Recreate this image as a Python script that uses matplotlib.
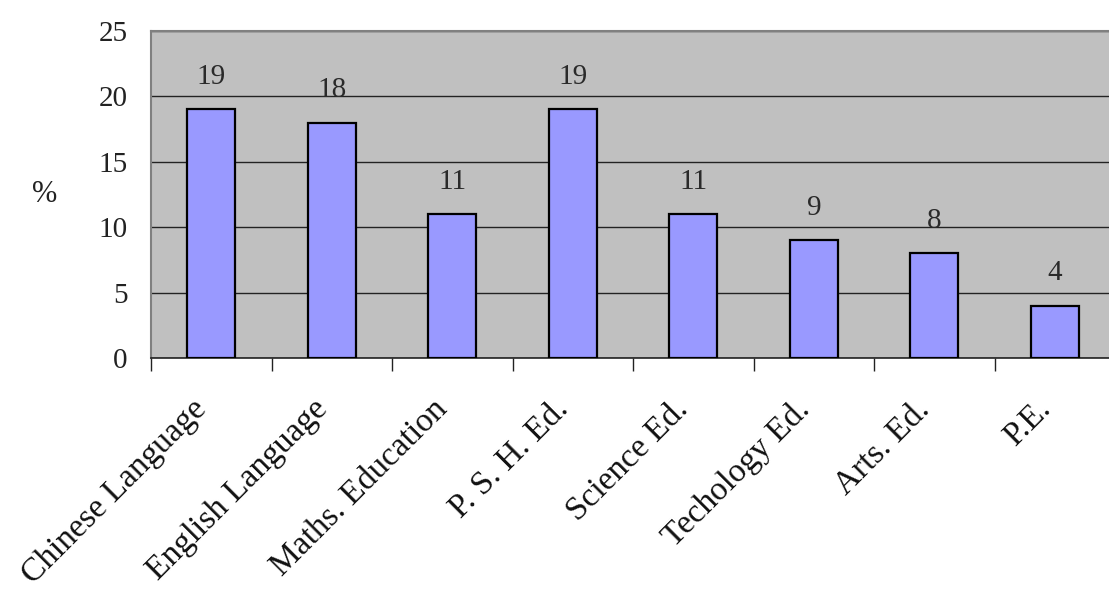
import matplotlib.pyplot as plt
import matplotlib.transforms as mtransforms
import numpy as np

subjects = ["Chinese Language", "English Language", "Maths. Education", "P. S. H. Ed.",
            "Science Ed.", "Techology Ed.", "Arts. Ed.", "P.E."]
percent = [19, 18, 11, 19, 11, 9, 8, 4]

plt.rcParams["font.family"] = ["Liberation Serif", "DejaVu Serif"]

fig = plt.figure(figsize=(11.09, 5.93), dpi=100)
ax = fig.add_axes([0.1362, 0.3963, 0.8693, 0.5514])
ax.set_facecolor("#C0C0C0")

x = np.arange(len(subjects))
ax.bar(x, percent, width=0.4, color="#9999FF", edgecolor="black", linewidth=1.6, zorder=3)

for xi, v in zip(x, percent):
    ax.text(xi, v + 1.5, str(v), ha="center", va="bottom", fontsize=21, color="#2a2a2a")

ax.set_xlim(-0.5, len(subjects) - 0.5)
ax.set_ylim(0, 25)
ax.set_yticks(range(0, 26, 5))
ax.yaxis.grid(True, color="#222222", linewidth=1.0, zorder=1)
ax.set_axisbelow(True)

# tick marks on the category boundaries
ax.set_xticks(np.arange(len(subjects)) - 0.5)
ax.set_xticklabels([])
ax.tick_params(axis="x", length=9, width=1, direction="out", color="#222222")
ax.tick_params(axis="y", length=0, pad=17, labelsize=21, labelcolor="#222222")

# slanted subject names under each bar
base = mtransforms.blended_transform_factory(ax.transData, ax.transAxes)
shift = mtransforms.ScaledTranslation(-0.2, -0.36, fig.dpi_scale_trans)
for xi, name in zip(x, subjects):
    ax.text(xi, 0, name, transform=base + shift, rotation=45, ha="right", va="top",
            rotation_mode="anchor", fontsize=24, color="#111111", clip_on=False)

for s in ["top", "left", "right"]:
    ax.spines[s].set_color("#808080")
    ax.spines[s].set_linewidth(1.5)
ax.spines["bottom"].set_color("#222222")
ax.spines["bottom"].set_linewidth(1.2)

fig.text(45 / 1109, 1 - 195 / 593, "%", fontsize=22, ha="center", va="center", color="#222222")

fig.savefig("out.png", dpi=100)
